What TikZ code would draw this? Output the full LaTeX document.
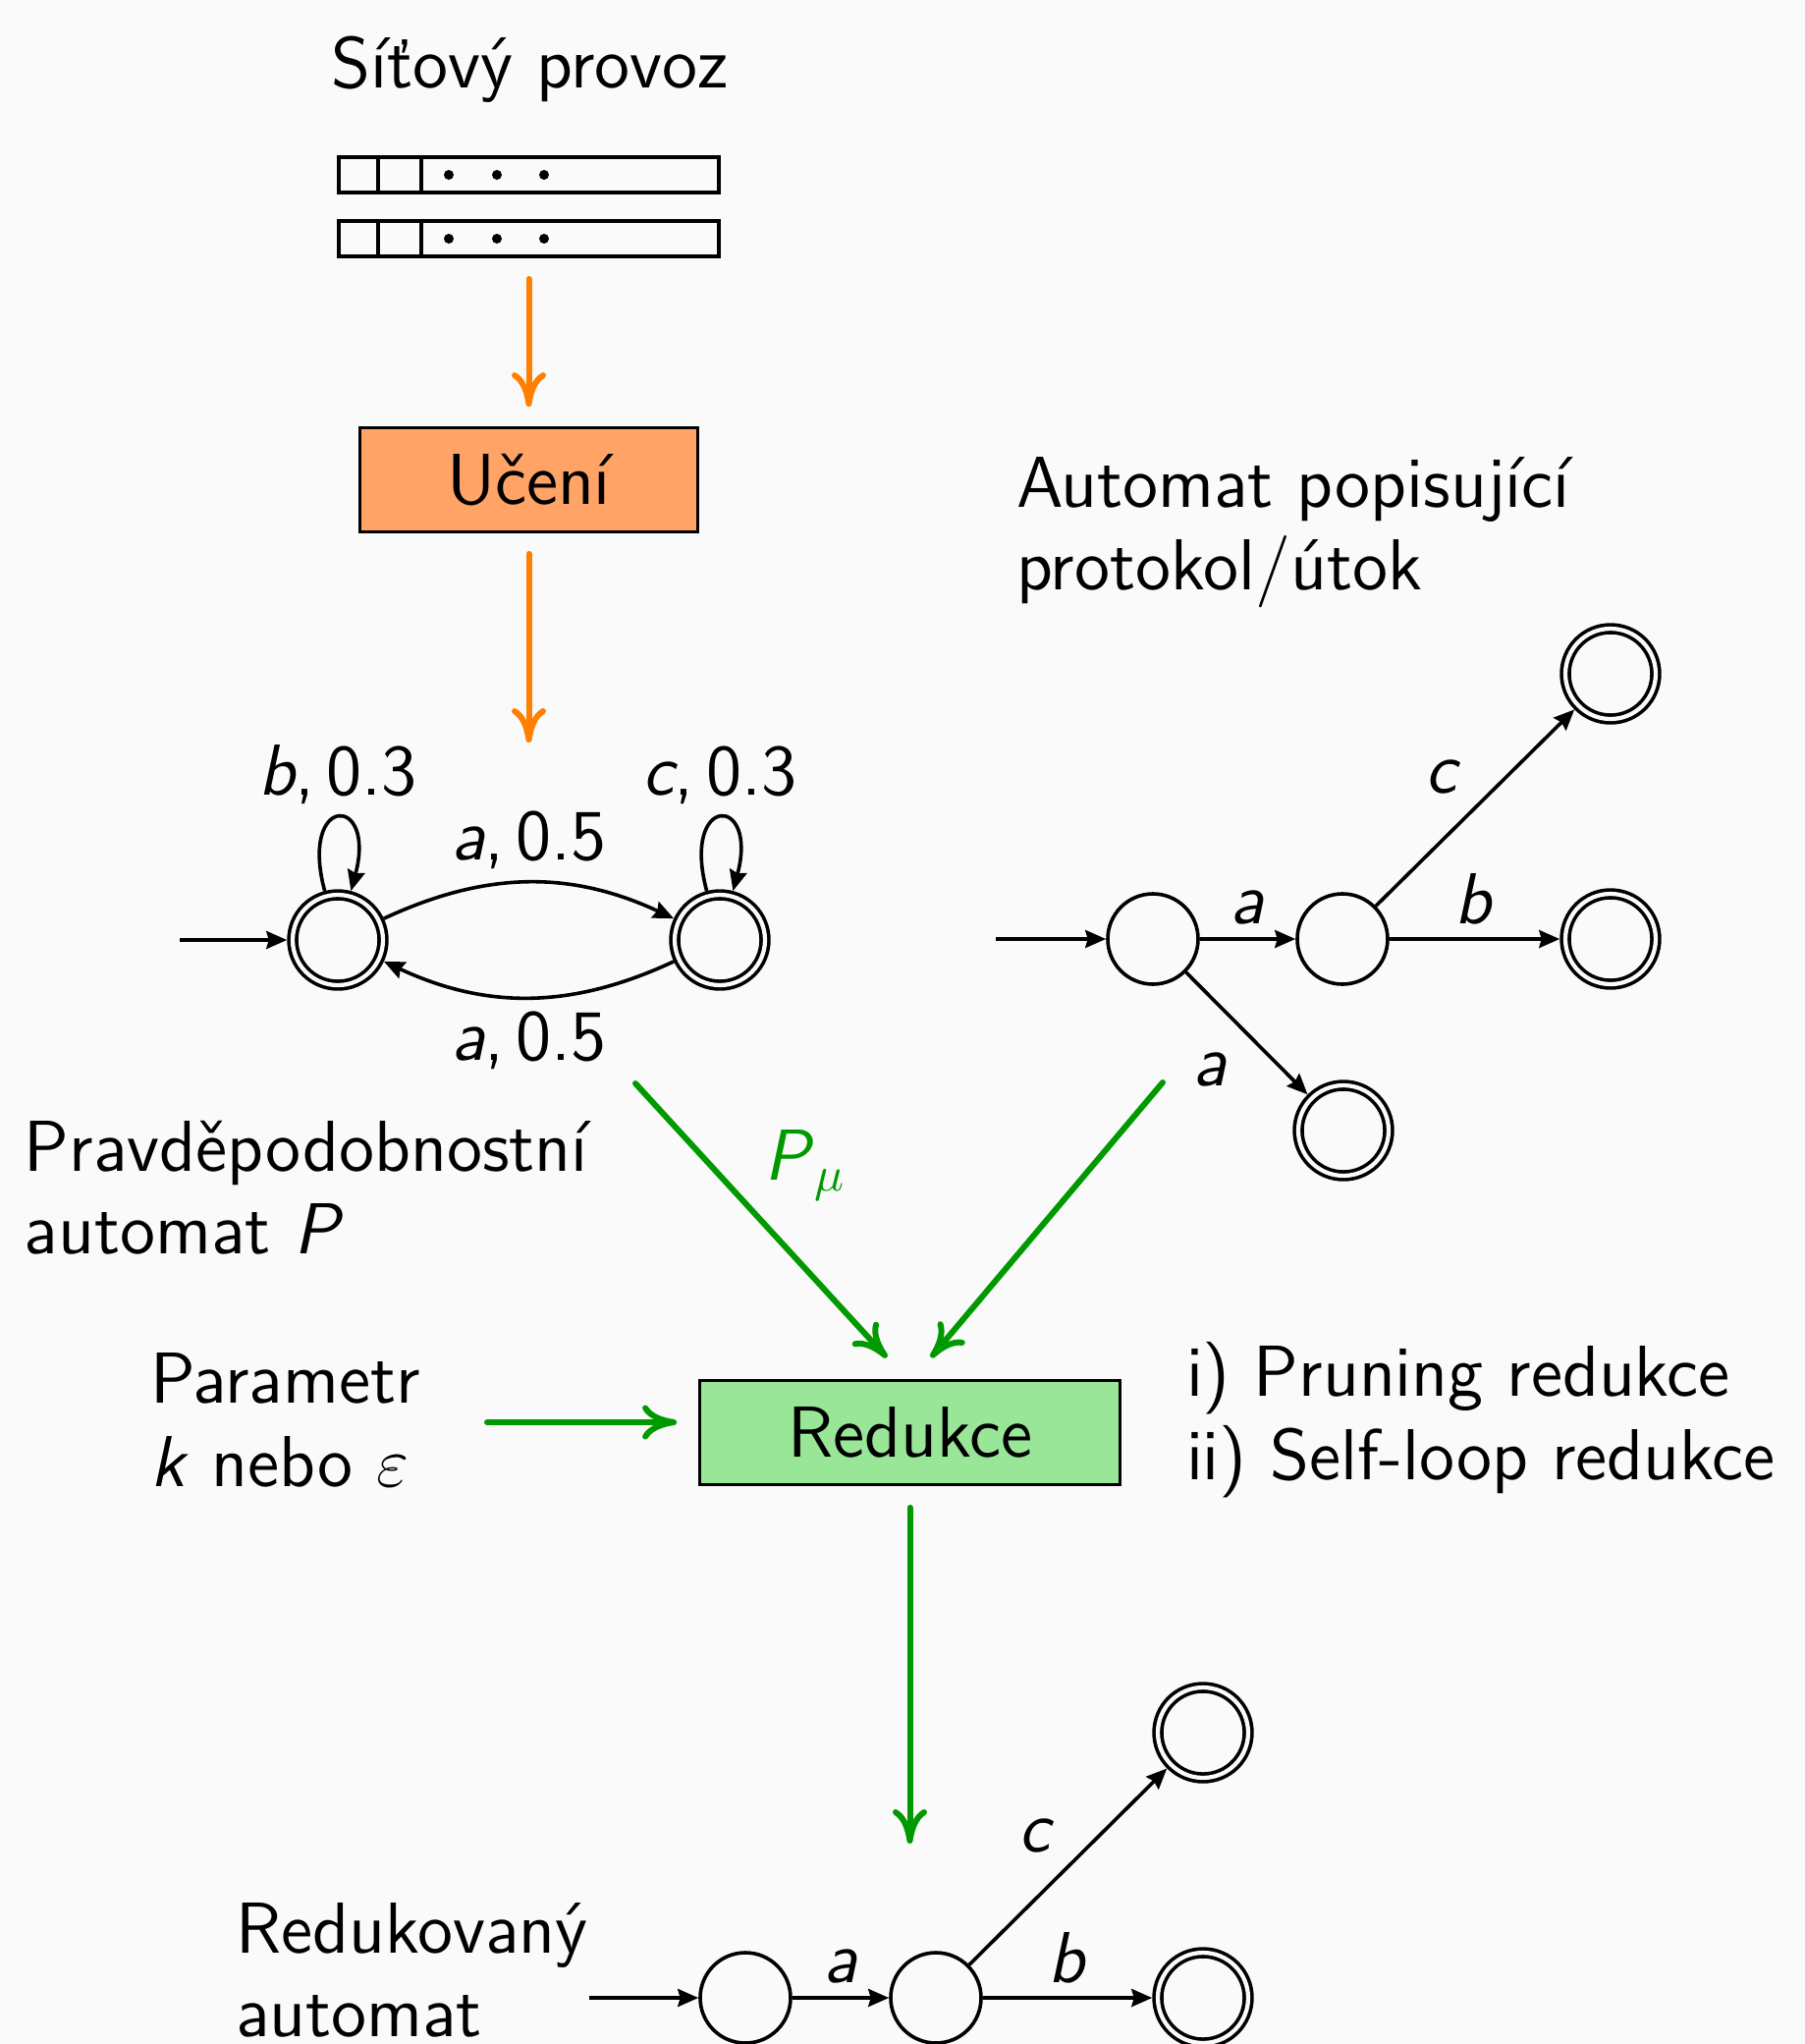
\documentclass[tikz,border=0pt]{standalone}
\usetikzlibrary{arrows.meta}
\renewcommand{\familydefault}{\sfdefault}
% slanted sans letters for symbols and labels
\newcommand{\mv}[1]{\textsl{#1}}

\definecolor{bgcol}{RGB}{250,250,250}
\definecolor{flowor}{RGB}{255,128,0}
\definecolor{boxor}{RGB}{255,163,102}
\definecolor{flowgr}{RGB}{0,153,0}
\definecolor{boxgr}{RGB}{153,230,153}

\begin{document}
\begin{tikzpicture}[x=0.2pt,y=0.2pt,
  font=\fontsize{14.7}{17}\selectfont,
  st/.style={circle,draw,line width=0.72pt,minimum size=18.4pt,inner sep=0pt},
  acc/.style={st,double=bgcol,double distance=0.85pt,outer sep=1.15pt},
  tr/.style={-{Stealth[length=4.2pt,width=3.6pt,inset=0.5pt]},line width=0.72pt},
  selfloop/.style={loop above,min distance=20.5pt},
  lbl/.style={inner sep=2.5pt},
  flow/.style={-{Computer Modern Rightarrow[length=7pt,width=7pt]},line width=1.2pt,line cap=round},
  stepbox/.style={draw,line width=0.65pt,minimum height=21.1pt,inner sep=0pt},
  txt/.style={anchor=base west,inner sep=0pt},
  bar/.style={draw,line width=0.8pt,minimum width=77.4pt,minimum height=7.2pt,inner sep=0pt},
]
% page background and frame
\fill[bgcol] (0,0) rectangle (1838,-2081);
\useasboundingbox (0,0) rectangle (1838,-2081);
\clip (0,0) rectangle (1838,-2081);

% network traffic: two packet queues
\node[anchor=base,inner sep=0pt] (traffic) at (539.5,-89) {Síťový provoz};
\node[bar] (queue1) at (538.5,-178) {};
\node[bar] (queue2) at (538.5,-243) {};
\foreach \q in {queue1,queue2}{
  \draw[line width=0.8pt] ([xshift=42*0.2pt]\q.north west) -- ([xshift=42*0.2pt]\q.south west);
  \draw[line width=0.8pt] ([xshift=86*0.2pt]\q.north west) -- ([xshift=86*0.2pt]\q.south west);
  \foreach \dx in {114,163,211}
    \fill ([xshift=\dx*0.2pt]\q.west) circle (1pt);
}

% learning step
\node[stepbox,fill=boxor,minimum width=68.7pt] (learn) at (538.5,-488.5) {Učení};
\coordinate (paTop) at (538.5,-756);
\draw[flow,flowor,shorten <=4.2pt,shorten >=4pt] (queue2.south) -- (learn.north);
\draw[flow,flowor,shorten <=4.2pt] (learn.south) -- (paTop);

% probabilistic automaton P
\node[acc] (p0) at (344,-957) {};
\node[acc] (p1) at (733,-957) {};
\coordinate (p0in) at (183,-957);
\draw[tr] (p0in) -- (p0);
\draw[tr] (p0) to[bend left=25] node[lbl,above] {\mv{a},\,0.5} (p1);
\draw[tr] (p1) to[bend left=25] node[lbl,below] {\mv{a},\,0.5} (p0);
\draw[tr] (p0) to[selfloop] node[lbl,above] {\mv{b},\,0.3} (p0);
\draw[tr] (p1) to[selfloop] node[lbl,above] {\mv{c},\,0.3} (p1);
\node[txt] (paA) at (24,-1192) {Pravděpodobnostní};
\node[txt] (paB) at (24,-1276) {automat \mv{P}};

% automaton describing the protocol / attack
\node[txt] (protoA) at (1034,-516) {Automat popisující};
\node[txt] (protoB) at (1034,-600) {protokol/útok};
\node[st] (r0) at (1174,-956) {};
\node[st] (r1) at (1367,-956) {};
\node[acc] (r2) at (1640,-686) {};
\node[acc] (r3) at (1640,-956) {};
\node[acc] (r4) at (1368,-1151) {};
\coordinate (r0in) at (1014,-956);
\draw[tr] (r0in) -- (r0);
\draw[tr] (r0) -- node[lbl,above] {\mv{a}} (r1);
\draw[tr] (r1) -- node[lbl,above] {\mv{b}} (r3);
\draw[tr] (r1) -- node[lbl,auto] {\mv{c}} (r2);
\draw[tr] (r0) -- node[lbl,auto,swap,inner sep=3.5pt] {\mv{a}} (r4);

% reduction step
\node[stepbox,fill=boxgr,minimum width=85.5pt] (reduce) at (926.5,-1458.5) {Redukce};
\coordinate (fromP) at (647,-1103);
\coordinate (intoA) at (903,-1382);
\coordinate (fromProto) at (1184,-1102);
\coordinate (intoB) at (948,-1382);
\coordinate (fromParam) at (496,-1448);
\coordinate (resultTop) at (926.5,-1877);
\draw[flow,flowgr] (fromP) -- node[pos=0.3,right=7pt,text=flowgr] {\mv{P}$_\mu$} (intoA);
\draw[flow,flowgr] (fromProto) -- (intoB);
\draw[flow,flowgr,shorten >=4.4pt] (fromParam) -- (fromParam -| reduce.west);
\draw[flow,flowgr,shorten <=4.4pt] (reduce.south) -- (resultTop);
\node[txt] (parA) at (152,-1428) {Parametr};
\node[txt] (parB) at (152,-1513) {\mv{k} nebo $\varepsilon$};
\node[txt] (redA) at (1207,-1421) {i) Pruning redukce};
\node[txt] (redB) at (1207,-1506) {ii) Self-loop redukce};

% reduced automaton
\node[txt] (outA) at (239,-1988) {Redukovaný};
\node[txt] (outB) at (239,-2073) {automat};
\node[st] (s0) at (759,-2034) {};
\node[st] (s1) at (953,-2034) {};
\node[acc] (s2) at (1225,-1764) {};
\node[acc] (s3) at (1225,-2034) {};
\coordinate (s0in) at (600,-2034);
\draw[tr] (s0in) -- (s0);
\draw[tr] (s0) -- node[lbl,above] {\mv{a}} (s1);
\draw[tr] (s1) -- node[lbl,above] {\mv{b}} (s3);
\draw[tr] (s1) -- node[lbl,auto] {\mv{c}} (s2);
\end{tikzpicture}
\end{document}
